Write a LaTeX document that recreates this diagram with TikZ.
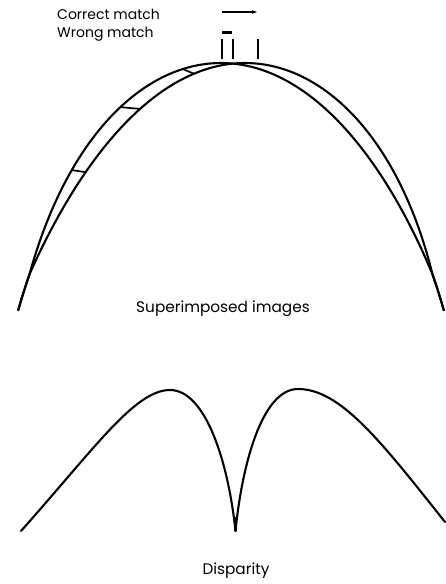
\documentclass[tikz,border=0pt]{standalone}
\usepackage{fontspec}
\setmainfont{Poppins}
\usepackage{tikz}
\usetikzlibrary{arrows.meta, positioning}

\tikzset{
  curve/.style={line width=2.1pt, line join=round, line cap=round},
  rung/.style={line width=1.7pt},
  tick/.style={line width=1.6pt},
  legend/.style={font=\fontsize{14}{16}\selectfont, inner sep=0pt},
  caption/.style={font=\fontsize{15.3}{17}\selectfont, inner sep=0pt},
  declare function={
    cy(\t)=63+490*(1-cos(\t));
    mu(\t)=min(1,2.322*(1-cos(\t)));
    xa(\t)=221+10*mu(\t)*sqrt(mu(\t))+245*sin(\t);
    xb(\t)=245-14*mu(\t)*sqrt(mu(\t))+245*sin(\t);
  }
}

\begin{document}
\begin{tikzpicture}[x=1pt, y=-1pt, >=Stealth]
  \useasboundingbox (0,0) rectangle (445,584);

  % Legend
  \node[legend, anchor=west] (correct) at (57,14) {Correct match};
  \node[legend, anchor=west] (wrong) at (57,34) {Wrong match};
  \coordinate (c0) at (222,12);
  \coordinate (c1) at (257,12);
  \coordinate (w0) at (222,32);
  \coordinate (w1) at (232,32);
  \draw[line width=1.5pt, -{Stealth[length=5pt, width=3.5pt]}] (c0) -- (c1);
  \draw[line width=3pt] (w0) -- (w1);
  \foreach \x in {222, 233, 258} {
    \draw[tick] (\x,39) -- (\x,59);
  }

  % Superimposed images
  \draw[curve] plot[domain=-60.3:60.3, samples=161, variable=\t]
    ({xa(\t)}, {cy(\t)});
  \draw[curve] plot[domain=-60.3:60.3, samples=161, variable=\t]
    ({xb(\t)}, {cy(\t)});
  \coordinate (a1) at ({xa(-38.6)}, {cy(-38.6)});
  \coordinate (b1) at ({xb(-39.0)}, {cy(-39.0)});
  \coordinate (a2) at ({xa(-24.5)}, {cy(-24.5)});
  \coordinate (b2) at ({xb(-25.0)}, {cy(-25.0)});
  \coordinate (a3) at ({xa(-9)}, {cy(-9)});
  \coordinate (b3) at ({xb(-12)}, {cy(-12)});
  \draw[rung] (a1) -- (b1);
  \draw[rung] (a2) -- (b2);
  \draw[rung] (a3) -- (b3);
  \node[caption] (superimposed) at (223,309) {Superimposed images};

  % Disparity
  \coordinate (dleft) at (21,531);
  \coordinate (dpeak1) at (170,390);
  \coordinate (cusp) at (235.5,531);
  \coordinate (dpeak2) at (298,389);
  \coordinate (dright) at (445,522);
  \draw[curve] (dleft) .. controls (95,448) and (135,390) .. (dpeak1)
    .. controls (205,390) and (228,460) .. (cusp);
  \draw[curve] (cusp) .. controls (242,465) and (262,389) .. (dpeak2)
    .. controls (340,389) and (380,440) .. (dright);
  \draw[line width=2.8pt] (235.5,517) -- (cusp);
  \node[caption] (disparity) at (236,571) {Disparity};
\end{tikzpicture}
\end{document}
